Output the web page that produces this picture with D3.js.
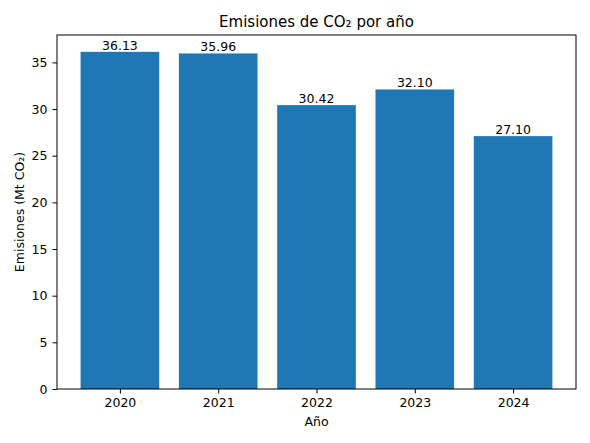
<!DOCTYPE html>
<html lang="en">
<head>
<meta charset="utf-8">
<script src="https://d3js.org/d3.v7.min.js"></script>
<style>
  body { margin: 0; background: #fff; }
  text { font-family: "DejaVu Sans", sans-serif; }
</style>
</head>
<body>
<script>
// datos
var years = ["2020", "2021", "2022", "2023", "2024"];
var emissions = [36.13, 35.96, 30.42, 32.10, 27.10];
var yTicks = [0, 5, 10, 15, 20, 25, 30, 35];

var w = 590, h = 443;
var mLeft = 57, mRight = 576, mTop = 35, mBottom = 389;

var svg = d3.select("body").append("svg").attr("width", w).attr("height", h);

var x = d3.scaleLinear().domain([-0.64, years.length - 1 + 0.64]).range([mLeft, mRight]);
var y = d3.scaleLinear().domain([0, d3.max(emissions) * 1.05]).range([mBottom, mTop]);

svg.selectAll("rect.bar")
  .data(emissions)
  .enter().append("rect")
  .attr("class", "bar")
  .attr("x", function(d, i) { return x(i - 0.4); })
  .attr("width", function() { return x(0.4) - x(-0.4); })
  .attr("y", function(d) { return y(d); })
  .attr("height", function(d) { return mBottom - y(d); })
  .attr("fill", "#1f77b4");

svg.selectAll("text.lbl")
  .data(emissions)
  .enter().append("text")
  .attr("class", "lbl")
  .attr("x", function(d, i) { return x(i); })
  .attr("y", function(d) { return y(d) - 2; })
  .attr("text-anchor", "middle")
  .attr("font-size", 12.5)
  .text(function(d) { return d.toFixed(2); });

var xAxis = d3.axisBottom(x).tickValues(d3.range(years.length))
  .tickFormat(function(i) { return years[i]; }).tickSizeOuter(0).tickSize(4.5).tickPadding(5);
var yAxis = d3.axisLeft(y).tickValues(yTicks).tickSizeOuter(0).tickSize(4.5).tickPadding(5);

var gx = svg.append("g").attr("transform", "translate(0," + mBottom + ")").call(xAxis);
var gy = svg.append("g").attr("transform", "translate(" + mLeft + ",0)").call(yAxis);
[gx, gy].forEach(function(g) {
  g.select(".domain").remove();
  g.selectAll("text").attr("font-size", 12.5).attr("font-family", "DejaVu Sans").attr("fill", "#000");
  g.selectAll("line").attr("stroke", "#000");
});

svg.append("rect").attr("x", mLeft).attr("y", mTop)
  .attr("width", mRight - mLeft).attr("height", mBottom - mTop)
  .attr("fill", "none").attr("stroke", "#000").attr("stroke-width", 1);

svg.append("text").attr("x", (mLeft + mRight) / 2).attr("y", 27)
  .attr("text-anchor", "middle").attr("font-size", 15)
  .text("Emisiones de CO\u2082 por año");

svg.append("text").attr("x", (mLeft + mRight) / 2).attr("y", 426)
  .attr("text-anchor", "middle").attr("font-size", 12.5).text("Año");

svg.append("text").attr("transform", "translate(24," + ((mTop + mBottom) / 2) + ") rotate(-90)")
  .attr("text-anchor", "middle").attr("font-size", 12.5).text("Emisiones (Mt CO\u2082)");
</script>
</body>
</html>
